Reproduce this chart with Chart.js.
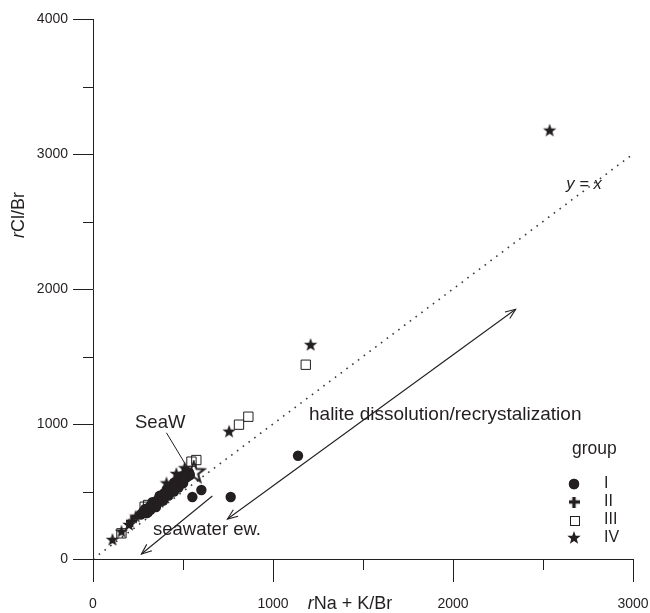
<!DOCTYPE html>
<html><head><meta charset="utf-8">
<script src="https://cdn.jsdelivr.net/npm/chart.js@4/dist/chart.umd.min.js"></script>
<style>html,body{margin:0;padding:0;background:#fff;}</style>
</head><body>
<canvas id="c" width="650" height="613"></canvas>
<script>
// ---- data (rNa+K/Br, rCl/Br) ----
const groupI = [
  [265,330],[280,352],[292,340],[300,372],[312,360],[318,392],[330,385],[336,412],
  [345,400],[352,430],[360,418],[368,450],[375,438],[382,468],[390,455],[396,488],
  [404,476],[410,505],[418,492],[425,522],[432,510],[440,540],[448,528],[455,556],
  [462,546],[470,575],[478,562],[486,592],[494,580],[500,606],[510,598],[518,628],
  [526,615],[534,640],
  [300,341],[320,365],[340,389],[360,414],[380,438],[400,462],[420,486],[440,510],
  [460,535],[480,559],[500,583],[520,607],[538,622],
  [290,370],[330,420],[370,468],[410,515],[450,565],[490,612],
  [350,385],[390,432],[420,470],[450,500],[475,530],[500,560],
  [552,459],[602,511],[765,459],[1139,765]
];
const groupII = [[215,280],[330,400],[390,480],[450,545],[505,615]];
const groupIII = [[158,190],[287,387],[306,400],[547,721],[574,733],[811,995],[863,1054],[1182,1439]];
const groupIV = [[108,141],[158,202],[200,252],[237,313],[408,560],[463,630],[509,672],[756,943],[1209,1585],[2537,3173]];
const seaWater = [[560,640]];
const lineYX = [[0,0],[3000,3000]];
const xTickValues = [0,500,1000,1500,2000,2500,3000];
const yTickValues = [0,500,1000,1500,2000,2500,3000,3500,4000];
const legendLabels = ['I','II','III','IV'];
// arrows in data units: [x1,y1,x2,y2]
const arrowHalite = [747,296,2348,1850];
const arrowSeawater = [663,467,269,37];
const seaWPointer = [408,935,530,665];

const INK = '#231f20';
const FONT = '"Liberation Sans", Arial, Helvetica, sans-serif';
Chart.defaults.font.family = FONT;
Chart.defaults.color = INK;

function starCanvas(R, r, fill, stroke, lw){
  const s = Math.ceil(2*R + 4);
  const c = document.createElement('canvas'); c.width = s; c.height = s;
  const g = c.getContext('2d');
  g.beginPath();
  for (let i = 0; i < 10; i++) {
    const a = -Math.PI/2 + i*Math.PI/5, rad = (i % 2) ? r : R;
    g.lineTo(s/2 + rad*Math.cos(a), s/2 + rad*Math.sin(a));
  }
  g.closePath();
  if (fill) { g.fillStyle = fill; g.fill(); }
  if (stroke) { g.strokeStyle = stroke; g.lineWidth = lw; g.lineJoin='miter'; g.stroke(); }
  return c;
}
function plusCanvas(size, thick){
  const c = document.createElement('canvas'); c.width = size; c.height = size;
  const g = c.getContext('2d'); g.fillStyle = INK;
  g.fillRect(0, (size-thick)/2, size, thick);
  g.fillRect((size-thick)/2, 0, thick, size);
  return c;
}
const starImg = starCanvas(7, 2.9, INK);
const seaWImg = starCanvas(11, 4.5, null, INK, 2);
const plusImg = plusCanvas(11, 3.4);

const toXY = a => a.map(p => ({x:p[0], y:p[1]}));

const annot = {
  id: 'annot',
  afterDraw(chart) {
    const ctx = chart.ctx, xs = chart.scales.x, ys = chart.scales.y;
    const X = v => xs.getPixelForValue(v), Y = v => ys.getPixelForValue(v);
    ctx.save();
    ctx.strokeStyle = INK; ctx.fillStyle = INK; ctx.lineWidth = 1;
    // minor ticks
    ctx.beginPath();
    xTickValues.forEach(v => { if (v % 1000) { const px = Math.round(X(v)) + 0.5; ctx.moveTo(px, ys.bottom); ctx.lineTo(px, ys.bottom + 11); } });
    yTickValues.forEach(v => { if (v % 1000) { const py = Math.round(Y(v)) + 0.5; ctx.moveTo(xs.left, py); ctx.lineTo(xs.left - 10, py); } });
    ctx.stroke();
    // lines and arrows
    function seg(a){ ctx.beginPath(); ctx.moveTo(X(a[0]),Y(a[1])); ctx.lineTo(X(a[2]),Y(a[3])); ctx.stroke(); }
    function head(tx,ty,fx,fy){
      const ang = Math.atan2(ty-fy, tx-fx), L = 11, w = 0.38;
      ctx.beginPath();
      ctx.moveTo(tx - L*Math.cos(ang-w), ty - L*Math.sin(ang-w));
      ctx.lineTo(tx, ty);
      ctx.lineTo(tx - L*Math.cos(ang+w), ty - L*Math.sin(ang+w));
      ctx.stroke();
    }
    ctx.lineWidth = 1.1;
    seg(arrowHalite);
    head(X(arrowHalite[2]),Y(arrowHalite[3]),X(arrowHalite[0]),Y(arrowHalite[1]));
    head(X(arrowHalite[0]),Y(arrowHalite[1]),X(arrowHalite[2]),Y(arrowHalite[3]));
    seg(arrowSeawater);
    head(X(arrowSeawater[2]),Y(arrowSeawater[3]),X(arrowSeawater[0]),Y(arrowSeawater[1]));
    ctx.lineWidth = 1;
    seg(seaWPointer);
    // texts
    ctx.textBaseline = 'middle'; ctx.textAlign = 'left';
    ctx.font = '19px ' + FONT;
    ctx.fillText('halite dissolution/recrystalization', 309, 415);
    ctx.font = '18.5px ' + FONT;
    ctx.fillText('seawater ew.', 153, 530);
    ctx.fillText('SeaW', 135, 423);
    ctx.font = 'italic 16.5px ' + FONT;
    ctx.textAlign = 'center';
    ctx.fillText('y = x', 584, 184);
    // axis titles with italic r
    function mixed(cx, cy, rot, rest){
      ctx.save(); ctx.translate(cx, cy); ctx.rotate(rot);
      ctx.textAlign = 'left'; ctx.textBaseline = 'middle';
      ctx.font = 'italic 18px ' + FONT; const w1 = ctx.measureText('r').width;
      ctx.font = '18px ' + FONT; const w2 = ctx.measureText(rest).width;
      const x0 = -(w1 + w2)/2;
      ctx.font = 'italic 18px ' + FONT; ctx.fillText('r', x0, 0);
      ctx.font = '18px ' + FONT; ctx.fillText(rest, x0 + w1, 0);
      ctx.restore();
    }
    mixed(350, 604, 0, 'Na + K/Br');
    mixed(19, 215, -Math.PI/2, 'Cl/Br');
    // legend
    ctx.textAlign = 'left'; ctx.textBaseline = 'middle';
    ctx.font = '17.5px ' + FONT;
    ctx.fillText('group', 572, 449);
    const ly = [484, 502, 520, 538], lx = 574;
    Chart.helpers.drawPoint(ctx, {pointStyle:'circle', radius:5.2, rotation:0, borderWidth:0}, lx, ly[0]);
    ctx.fill();
    ctx.drawImage(plusImg, lx - plusImg.width/2, ly[1] - plusImg.height/2);
    ctx.lineWidth = 1; ctx.strokeStyle = INK;
    ctx.strokeRect(Math.round(lx-4.5)+0.5, Math.round(ly[2]-4.5)+0.5, 9, 9);
    ctx.drawImage(starImg, lx - starImg.width/2, ly[3] - starImg.height/2);
    ctx.font = '16px ' + FONT;
    legendLabels.forEach((t,i) => ctx.fillText(t, 604, ly[i]));
    ctx.restore();
  }
};

new Chart(document.getElementById('c'), {
  type: 'scatter',
  data: {
    datasets: [
      { label:'y=x', type:'line', data: toXY(lineYX), borderColor:'#3a3a3a', borderWidth:1.6, borderDash:[1.6,5.6], pointRadius:0, fill:false, order:10 },
      { label:'I', data: toXY(groupI), pointStyle:'circle', pointRadius:5.2, backgroundColor:INK, borderWidth:0, order:4 },
      { label:'II', data: toXY(groupII), pointStyle:plusImg, order:3 },
      { label:'III', data: toXY(groupIII), pointStyle:'rect', pointRadius:6.6, backgroundColor:'rgba(0,0,0,0)', borderColor:INK, borderWidth:1, order:2 },
      { label:'IV', data: toXY(groupIV), pointStyle:starImg, order:1 },
      { label:'SeaW', data: toXY(seaWater), pointStyle:seaWImg, order:0 }
    ]
  },
  options: {
    responsive:false, animation:false, devicePixelRatio:1,
    layout:{ padding:{ top:19, right:17, left:0, bottom:0 } },
    plugins:{ legend:{display:false}, tooltip:{enabled:false} },
    scales:{
      x:{ type:'linear', min:0, max:3000,
        afterBuildTicks: s => { s.ticks = xTickValues.map(v => ({value:v})); },
        afterFit: s => { s.height = 54; s.paddingLeft = 0; s.paddingRight = 0; },
        ticks:{ autoSkip:false, maxRotation:0, padding:14, font:{size:14}, color:INK,
          callback: v => (v % 1000 === 0 ? String(v) : '') },
        grid:{ drawOnChartArea:false, drawTicks:true, tickLength:23, tickWidth:1,
          tickColor: c => (c.tick && c.tick.value % 1000 === 0 ? INK : 'rgba(0,0,0,0)') },
        border:{ display:true, color:INK, width:1 }
      },
      y:{ type:'linear', min:0, max:4000,
        afterBuildTicks: s => { s.ticks = yTickValues.map(v => ({value:v})); },
        afterFit: s => { s.width = 93; s.paddingTop = 0; s.paddingBottom = 0; },
        ticks:{ autoSkip:false, padding:5, font:{size:14}, color:INK,
          callback: v => (v % 1000 === 0 ? String(v) : '') },
        grid:{ drawOnChartArea:false, drawTicks:true, tickLength:20, tickWidth:1,
          tickColor: c => (c.tick && c.tick.value % 1000 === 0 ? INK : 'rgba(0,0,0,0)') },
        border:{ display:true, color:INK, width:1 }
      }
    }
  },
  plugins:[annot]
});
</script>
</body></html>
